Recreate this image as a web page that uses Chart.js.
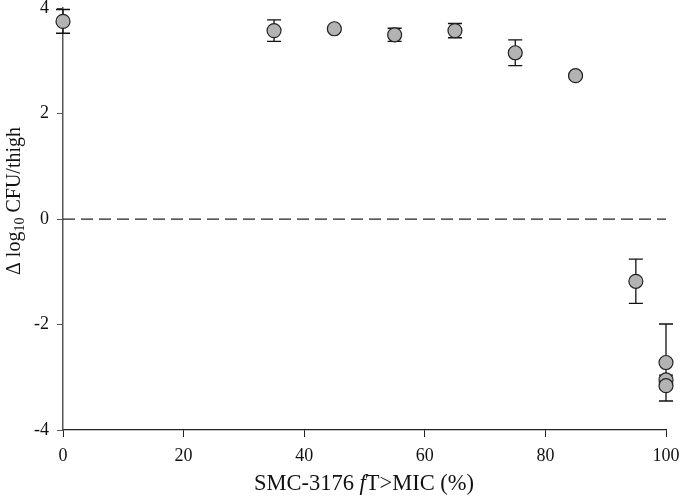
<!DOCTYPE html>
<html>
<head>
<meta charset="utf-8">
<script src="https://cdn.jsdelivr.net/npm/chart.js@4.4.1/dist/chart.umd.min.js"></script>
<style>
  html, body { margin: 0; padding: 0; background: #fff; }
  #wrap { width: 680px; height: 499px; position: relative; }
</style>
</head>
<body>
<div id="wrap"><canvas id="c" width="680" height="499"></canvas></div>
<script>
// ---- data ----
const xValues = [0, 35, 45, 55, 65, 75, 85, 95, 100, 100, 100];
const yValues = [3.75, 3.575, 3.61, 3.495, 3.575, 3.155, 2.72, -1.18, -2.72, -3.05, -3.16];
const yErrors = [0.225, 0.205, 0.03, 0.125, 0.135, 0.245, 0.03, 0.42, 0.73, 0.09, 0.05];
const xTicks = [0, 20, 40, 60, 80, 100];
const yTicks = [-4, -2, 0, 2, 4];
const referenceLine = [{x: 0, y: 0}, {x: 100, y: 0}];
const xTitleParts = [["SMC-3176 ", "normal"], ["f", "italic"], ["T>MIC (%)", "normal"]];
const yTitleParts = [["\u0394 log", "normal"], ["10", "sub"], [" CFU/thigh", "normal"]];

const FONT = "'Liberation Serif', 'Times New Roman', serif";

const points = xValues.map((x, i) => ({x: x, y: yValues[i]}));

const errorBarPlugin = {
  id: 'errorBars',
  beforeDatasetsDraw(chart) {
    const ctx = chart.ctx;
    const xs = chart.scales.x, ys = chart.scales.y;
    ctx.save();
    ctx.strokeStyle = '#111';
    ctx.lineWidth = 1.3;
    const cap = 7;
    xValues.forEach((x, i) => {
      const px = xs.getPixelForValue(x);
      const top = ys.getPixelForValue(yValues[i] + yErrors[i]);
      const bot = ys.getPixelForValue(yValues[i] - yErrors[i]);
      ctx.beginPath();
      ctx.moveTo(px, top); ctx.lineTo(px, bot);
      ctx.moveTo(px - cap, top); ctx.lineTo(px + cap, top);
      ctx.moveTo(px - cap, bot); ctx.lineTo(px + cap, bot);
      ctx.stroke();
    });
    ctx.restore();
  }
};

function drawParts(ctx, parts, size) {
  let total = 0;
  const fonts = parts.map(([t, s]) => {
    let f;
    if (s === 'italic') f = 'italic ' + size + 'px ' + FONT;
    else if (s === 'sub') f = Math.round(size * 0.7) + 'px ' + FONT;
    else f = size + 'px ' + FONT;
    ctx.font = f;
    const w = ctx.measureText(t).width;
    total += w;
    return {t, s, f, w};
  });
  let x = -total / 2;
  fonts.forEach(p => {
    ctx.font = p.f;
    ctx.fillText(p.t, x, p.s === 'sub' ? size * 0.28 : 0);
    x += p.w;
  });
}

const titlePlugin = {
  id: 'titles',
  afterDraw(chart) {
    const ctx = chart.ctx;
    const area = chart.chartArea;
    ctx.save();
    ctx.fillStyle = '#111';
    ctx.textBaseline = 'middle';
    ctx.textAlign = 'left';
    ctx.save();
    ctx.translate(364, 484);
    drawParts(ctx, xTitleParts, 22.5);
    ctx.restore();
    ctx.save();
    ctx.translate(15, 201);
    ctx.rotate(-Math.PI / 2);
    drawParts(ctx, yTitleParts, 20);
    ctx.restore();
    ctx.restore();
  }
};

new Chart(document.getElementById('c'), {
  type: 'scatter',
  data: {
    datasets: [
      {
        type: 'line',
        data: referenceLine,
        borderColor: '#222',
        borderWidth: 1.2,
        borderDash: [12, 6],
        pointRadius: 0,
        fill: false,
        order: 2
      },
      {
        data: points,
        backgroundColor: '#b3b3b3',
        borderColor: '#222',
        borderWidth: 1.2,
        pointRadius: 7,
        pointHoverRadius: 7,
        order: 1,
        clip: false
      }
    ]
  },
  options: {
    responsive: false,
    animation: false,
    events: [],
    layout: { padding: { top: 7, right: 14, left: 0, bottom: 0 } },
    plugins: { legend: { display: false }, tooltip: { enabled: false } },
    scales: {
      x: {
        type: 'linear',
        min: 0, max: 100,
        afterBuildTicks(s) { s.ticks = xTicks.map(v => ({value: v})); },
        afterFit(s) { s.height = 69; s.paddingLeft = 0; s.paddingRight = 0; },
        grid: { display: true, drawOnChartArea: false, drawTicks: true, tickLength: 7, color: '#222', lineWidth: 1 },
        border: { display: true, color: '#222', width: 1.2 },
        ticks: { color: '#111', padding: 8, font: { family: FONT, size: 18 }, maxRotation: 0 }
      },
      y: {
        type: 'linear',
        min: -4, max: 4,
        afterBuildTicks(s) { s.ticks = yTicks.map(v => ({value: v})); },
        afterFit(s) { s.width = 63; s.paddingTop = 0; s.paddingBottom = 0; },
        grid: { display: true, drawOnChartArea: false, drawTicks: true, tickLength: 6, color: '#555', lineWidth: 1 },
        border: { display: true, color: '#555', width: 1.5 },
        ticks: { color: '#111', padding: 8, font: { family: FONT, size: 18 } }
      }
    }
  },
  plugins: [errorBarPlugin, titlePlugin]
});
</script>
</body>
</html>
